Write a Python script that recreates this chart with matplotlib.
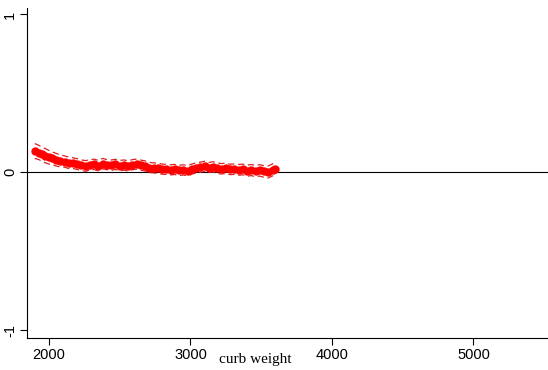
import numpy as np
import matplotlib.pyplot as plt
from matplotlib.font_manager import FontProperties

# estimated local fit of residual vs curb weight
weight = [1900, 1930, 1950, 1975, 2000, 2020, 2050, 2080, 2110, 2140, 2170, 2200,
          2230, 2260, 2290, 2320, 2350, 2380, 2410, 2440, 2470, 2500, 2530, 2560,
          2590, 2620, 2650, 2680, 2710, 2740, 2770, 2800, 2830, 2860, 2890, 2920,
          2950, 2980, 3010, 3040, 3070, 3100, 3130, 3160, 3190, 3220, 3250, 3280,
          3310, 3340, 3370, 3400, 3430, 3460, 3490, 3520, 3550, 3580, 3600]
fit = [0.135, 0.125, 0.115, 0.105, 0.095, 0.090, 0.080, 0.072, 0.068, 0.060, 0.058, 0.052,
       0.045, 0.040, 0.048, 0.050, 0.042, 0.055, 0.048, 0.045, 0.050, 0.042, 0.046, 0.040,
       0.048, 0.052, 0.045, 0.040, 0.030, 0.028, 0.025, 0.020, 0.018, 0.015, 0.018, 0.012,
       0.015, 0.010, 0.020, 0.028, 0.032, 0.038, 0.030, 0.035, 0.025, 0.022, 0.026, 0.018,
       0.020, 0.015, 0.018, 0.010, 0.014, 0.008, 0.012, 0.005, 0.002, 0.015, 0.020]
ci_hi = [0.182, 0.170, 0.160, 0.150, 0.138, 0.130, 0.120, 0.110, 0.104, 0.096, 0.092, 0.086,
         0.078, 0.074, 0.080, 0.083, 0.075, 0.088, 0.080, 0.078, 0.082, 0.075, 0.078, 0.073,
         0.080, 0.084, 0.077, 0.072, 0.062, 0.060, 0.057, 0.052, 0.050, 0.047, 0.050, 0.045,
         0.047, 0.043, 0.052, 0.060, 0.064, 0.070, 0.062, 0.067, 0.058, 0.055, 0.059, 0.051,
         0.053, 0.049, 0.052, 0.045, 0.049, 0.044, 0.048, 0.042, 0.040, 0.053, 0.060]
ci_lo = [0.088, 0.080, 0.070, 0.060, 0.052, 0.050, 0.040, 0.034, 0.032, 0.024, 0.024, 0.018,
         0.012, 0.006, 0.016, 0.017, 0.009, 0.022, 0.016, 0.012, 0.018, 0.009, 0.014, 0.007,
         0.016, 0.020, 0.013, 0.008, -0.002, -0.004, -0.007, -0.012, -0.014, -0.017, -0.014, -0.021,
         -0.017, -0.023, -0.012, -0.004, 0.000, 0.006, -0.002, 0.003, -0.008, -0.011, -0.007, -0.015,
         -0.013, -0.019, -0.016, -0.025, -0.021, -0.028, -0.024, -0.032, -0.036, -0.023, -0.020]

xticks = [2000, 3000, 4000, 5000]
yticks = [-1, 0, 1]

sans = FontProperties(family=['Liberation Sans', 'DejaVu Sans'], size=10.5)
serif = FontProperties(family=['Liberation Serif', 'DejaVu Serif'], size=11)

fig = plt.figure(figsize=(5.48, 3.70), dpi=100)
ax = fig.add_axes([0.0493, 0.0865, 0.9507, 0.8915])

ax.axhline(0, color='black', lw=0.8, zorder=1)
ax.plot(weight, ci_hi, color='#d82020', lw=0.9, ls=(0, (5, 3)), zorder=2)
ax.plot(weight, ci_lo, color='#d82020', lw=0.9, ls=(0, (5, 3)), zorder=2)
ax.plot(weight, fit, color='red', lw=3, marker='o', ms=5, zorder=3)

ax.set_xlim(1845, 5527)
ax.set_ylim(-1.05, 1.04)
ax.set_xticks(xticks)
ax.set_yticks(yticks)
ax.set_xticklabels([str(t) for t in xticks], fontproperties=sans)
ax.set_yticklabels([str(t) for t in yticks], fontproperties=sans,
                   rotation=90, va='center')
ax.tick_params(direction='out', length=5, width=0.8, pad=2)
fig.text(255 / 548, 1 - 360 / 370, 'curb weight', fontproperties=serif,
         ha='center', va='center')

ax.spines['top'].set_visible(False)
ax.spines['right'].set_visible(False)

plt.savefig('out.png', dpi=100)
